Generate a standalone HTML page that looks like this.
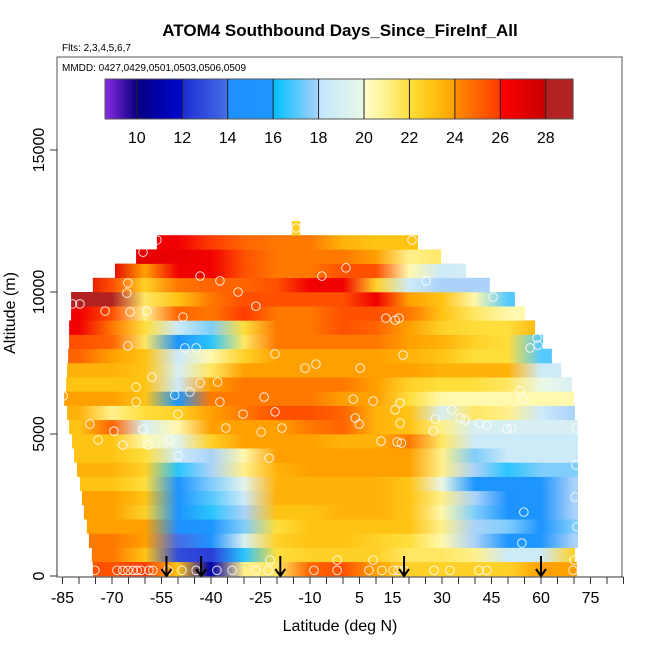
<!DOCTYPE html>
<html><head><meta charset="utf-8">
<style>
html,body{margin:0;padding:0;background:#fff;}
svg{display:block;font-family:"Liberation Sans",Arial,sans-serif;}
</style></head>
<body>
<svg id="chart" width="650" height="650" viewBox="0 0 650 650">
<defs id="defs"></defs>
<text x="340" y="36" text-anchor="middle" font-size="17" font-weight="bold">ATOM4 Southbound Days_Since_FireInf_All</text>
<text x="62" y="51" font-size="10">Flts: 2,3,4,5,6,7</text>
<text x="62" y="71" font-size="10">MMDD: 0427,0429,0501,0503,0506,0509</text>
<g id="rows"></g>
<g id="points"></g>
<g id="arrows"></g>
<g id="cbar"></g>
<rect x="57" y="57" width="565" height="520" fill="none" stroke="#555" stroke-width="1"/>
<g id="axes"></g>
<text x="340" y="631" text-anchor="middle" font-size="16">Latitude (deg N)</text>
<text transform="translate(15,313) rotate(-90)" text-anchor="middle" font-size="16">Altitude (m)</text>
</svg>
<script>
const latNodes = [-80,-70,-60,-50,-40,-30,-20,-10,0,10,20,30,40,50,60,70];
const rowAltBase = [0,500,1000,1500,2000,2500,3000,3500,4000,4500,5000,5500,6000,6500,7000,7500,8000,8500,9000,9500,10000,10500,11000,11500,12000];
const rowLatMin = [-75.8,-76.1,-77,-77.6,-78.5,-79.1,-79.7,-80.6,-81.5,-82.1,-83,-83.6,-84.5,-83.9,-83.6,-83.3,-83,-83,-82.4,-82.4,-75.8,-69.1,-62.7,-56.4,-15.5];
const rowLatMax = [70.9,70.3,71.2,71.2,71.2,71.2,71.2,71.2,71.2,71.2,71.2,70.3,70,69.4,66.1,63.3,60.6,58.2,55.2,52.1,44.5,37.3,29.7,22.7,-13];
const rowValues = [
 [25.5,25.5,26,23,11,21,21.5,25,25.5,24,22.5,22.5,22.5,22.5,24,24],
 [24.5,24.5,23,13,12.5,16.5,22,22.5,22.5,22.5,21.5,21.5,21,18.5,18.5,22.5],
 [24.5,24.5,24,14,15,19,22.5,23,23,22.5,22,20.5,18,16,16,18],
 [24,24,24,14.5,16,17.5,22,23,23,23,23,21,18,17.5,15.5,17.5],
 [24,24,22.5,15.5,16.5,18,23,23,23.5,23.5,23,20.5,17.5,15,15.5,18],
 [24,24,23,15.5,17,18.5,23.5,23.5,23.5,23.5,23,21,18,15,15.5,18],
 [23,23,22,15.5,17.5,19.5,23.5,23.5,23.5,23.5,23,20,16,15.5,16,18],
 [23.5,23.5,22.5,16.5,18,21,23.5,24,24,24,24,21,18,16.5,17.5,17.5],
 [23,23,22,18.5,18,20.5,24,24,24,24,24,21,17.5,18.5,18.5,18.5],
 [23,23,20.5,19.5,22.5,24,24,24,23.5,23.5,24.5,21.5,18.5,18.5,18.5,18.5],
 [23,25,19,20.5,24,24,24,24.5,25,23.5,23,21,19,19,19,19],
 [23.5,21,22,22.5,24,24.5,25.5,25.5,25,23.5,23,19,21.5,21,18.5,18],
 [24,24,23,16,24.5,24.5,24.5,24.5,24,24,22,20.5,20.5,20.5,20.5,20.5],
 [23,23,23,18.5,24,24.5,24.5,24.5,24.5,24,22.5,22,22,21.5,20,19],
 [23.5,23.5,23,19,21.5,24,24,24,24,24,24,23.5,23.5,23.5,18.5,18.5],
 [25,24,23,18.5,20.5,22.5,24,24,24,24,23.5,23,22,22,17,17],
 [25.5,25,21.5,15.5,16.5,21.5,24.5,24.5,24.5,24.5,24,23.5,22.5,22,17,17],
 [26.5,24.5,22,18.5,17.5,22,24.5,24.5,25.5,25,24,22.5,22,22,23.5,23.5],
 [26.5,25.5,21,25,24.5,26,24.5,24.5,25.5,25.5,24.5,23,21.5,20.5,20.5,20.5],
 [28.5,28.5,21.5,23,24.5,25.5,25.5,25.5,25.5,26.5,24,23,20.5,17,17,17],
 [27.5,25.5,22.5,24.5,25,25,25.5,26.5,26.5,22.5,18.5,18,18,18,18,18],
 [27,27,24,26.5,26.5,25.5,24.5,24.5,25.5,25.5,20.5,18.5,19,19,19,19],
 [27,27,27,26.8,26.5,25.5,24.5,24.5,24.5,24,21,21.5,21.5,21.5,21.5,21.5],
 [26.5,26.5,26.5,26.5,26,25,24.5,24.5,23.5,23,23,23,23,23,23,23],
 [22.5,22.5,22.5,22.5,22.5,22.5,22.5,22.5,22.5,22.5,22.5,22.5,22.5,22.5,22.5,22.5]
];
const pointLat = [-14.2,-56.4,-60.6,-43.3,-37.3,-6.4,-65.2,-65.5,-31.8,20.9,0.9,25.2,45.5,-82,-79.7,-72.1,-64.5,-59.4,-48.5,-26.4,13,15.8,17,-65.2,-47.9,-44.5,-20.6,-11.5,-8.2,5.2,18.2,56.7,58.8,59.1,-57.9,-43.3,-62.7,-51,-46.4,-38,-23.9,3.1,9.1,17.3,33,53.6,-84.8,-62.7,-50,-37.3,-30.3,-20.6,3.7,4.9,15.8,17.3,-76.7,-69.4,-60.6,-52.7,-35.5,-24.8,-18.5,11.5,16.4,17.7,27.4,28,35.5,37,41.5,43.6,49.7,51.2,70.6,-74.2,-66.7,-59.1,-50,-22.4,54.5,70.6,70.3,54.8,70.9,54.2,-75.2,-68.5,-66.7,-65.2,-63.6,-62.4,-61.2,-58.8,-57.6,-53,-48.8,-44.5,-38.2,-33.6,-26.4,-22.7,-8.8,-1.8,7.9,11.8,15.2,16.7,18.5,27.6,32.4,41.2,43.6,69.7,-22.1,-1.8,9.1,70];
const pointAlt = [12250,11830,11400,10560,10390,10560,10320,9960,10000,11830,10850,10390,9820,9580,9580,9330,9300,9330,9120,9500,9080,9010,9080,8100,8030,8030,7820,7320,7460,7320,7780,8030,8380,8130,7000,6800,6650,6370,6480,6830,6300,6230,6160,6090,5850,6520,6340,6130,5700,6130,5700,5780,5560,5350,5850,5380,5350,5100,5160,4790,5210,5070,5210,4750,4720,4680,5100,5530,5560,5490,5380,5320,5170,5210,5210,4790,4610,4610,4230,4150,6230,3910,2780,2250,1730,1160,200,200,200,200,200,200,200,200,200,200,200,200,200,200,200,200,200,200,200,200,200,200,200,200,200,200,200,200,560,560,560,560];
const arrowLat = [-53.5,-43,-19,18.5,60];
const xTicks = [-85,-70,-55,-40,-25,-10,5,15,30,45,60,75];
const yTicks = [0,5000,10000,15000];
const cbTicks = [10,12,14,16,18,20,22,24,26,28];

const NS = 'http://www.w3.org/2000/svg';
function X(lat){ return 62.5 + (lat + 85) * 3.3; }
function Y(alt){ return 576 - alt * 0.0284; }
function mk(tag, attrs, parent){ const e = document.createElementNS(NS, tag); for (const k in attrs) e.setAttribute(k, attrs[k]); parent.appendChild(e); return e; }

const cStops = [[8.6,[138,43,226]],[10,[10,0,130]],[11,[0,0,170]],[12,[0,10,205]],[12.01,[30,45,210]],[14,[70,110,230]],[14.01,[30,144,255]],[16,[30,150,255]],[16.01,[0,191,255]],[18,[170,210,250]],[18.01,[195,230,255]],[20,[235,248,230]],[20.01,[255,255,205]],[21,[255,240,140]],[22,[255,222,60]],[23,[255,195,20]],[24,[255,160,0]],[24.01,[255,140,0]],[26,[255,60,0]],[26.01,[255,0,0]],[28,[200,0,0]],[28.01,[178,34,34]],[29.3,[178,34,34]]];
function color(v){
  if (v <= cStops[0][0]) return 'rgb(' + cStops[0][1].join(',') + ')';
  for (let i = 1; i < cStops.length; i++) {
    if (v <= cStops[i][0]) {
      const a = cStops[i-1], b = cStops[i]; const t = (v - a[0]) / (b[0] - a[0]);
      return 'rgb(' + a[1].map((c, j) => Math.round(c + (b[1][j] - c) * t)).join(',') + ')';
    }
  }
  return 'rgb(178,34,34)';
}

const defs = document.getElementById('defs');
const rowsG = document.getElementById('rows');
rowValues.forEach((vals, r) => {
  const g = mk('linearGradient', {id: 'rg' + r, gradientUnits: 'userSpaceOnUse', x1: X(latNodes[0]), x2: X(latNodes[latNodes.length-1]), y1: 0, y2: 0}, defs);
  vals.forEach((v, i) => { mk('stop', {offset: (i / (latNodes.length - 1)).toFixed(4), 'stop-color': color(v)}, g); });
  const y0 = Y(rowAltBase[r] + 500), y1 = Y(rowAltBase[r]);
  const rect = mk('rect', {x: X(rowLatMin[r]), y: y0, width: X(rowLatMax[r]) - X(rowLatMin[r]), height: y1 - y0 + 0.3, fill: 'url(#rg' + r + ')'}, rowsG);
  
  
});

const ptsG = document.getElementById('points');
pointLat.forEach((lat, i) => {
  const c = mk('circle', {cx: X(lat), cy: Y(pointAlt[i]), r: 4.3, fill: 'none', stroke: '#fff', 'stroke-width': 1, opacity: 0.85}, ptsG);
  
  
});

const arG = document.getElementById('arrows');
arrowLat.forEach(lat => {
  const x = X(lat);
  const p = mk('path', {d: 'M' + x + ',556 L' + x + ',576 M' + (x-5) + ',569 L' + x + ',576 L' + (x+5) + ',569', stroke: '#000', 'stroke-width': 2, fill: 'none'}, arG);
  
  
});

const cb = document.getElementById('cbar');
const cbX0 = 105, cbX1 = 573, cbMin = 8.6, cbMax = 29.2;
function CX(v){ return cbX0 + (v - cbMin) / (cbMax - cbMin) * (cbX1 - cbX0); }
for (let v = cbMin; v < cbMax; v += 0.05) {
  mk('rect', {x: CX(v), y: 79, width: (cbX1 - cbX0) / ((cbMax - cbMin) / 0.05) + 0.6, height: 40, fill: color(v + 0.025)}, cb);
}
mk('rect', {x: cbX0, y: 79, width: cbX1 - cbX0, height: 40, fill: 'none', stroke: '#555'}, cb);
cbTicks.forEach(t => {
  mk('line', {x1: CX(t), x2: CX(t), y1: 79, y2: 119, stroke: '#222', 'stroke-width': 1}, cb);
  const tx = mk('text', {x: CX(t), y: 143, 'text-anchor': 'middle', 'font-size': 16}, cb);
  tx.textContent = t;
  
  
});

const ax = document.getElementById('axes');
mk('line', {x1: X(-85), x2: X(85), y1: 577, y2: 577, stroke: '#333'}, ax);
for (let l = -85; l <= 85; l += 5) mk('line', {x1: X(l), x2: X(l), y1: 577, y2: 584, stroke: '#333'}, ax);
xTicks.forEach(t => {
  const tx = mk('text', {x: X(t), y: 603, 'text-anchor': 'middle', 'font-size': 16}, ax);
  tx.textContent = t;
  
  
});
mk('line', {x1: 57, x2: 57, y1: Y(0), y2: Y(15000), stroke: '#333'}, ax);
yTicks.forEach(t => {
  mk('line', {x1: 50, x2: 57, y1: Y(t), y2: Y(t), stroke: '#333'}, ax);
  const tx = mk('text', {'text-anchor': 'middle', 'font-size': 16, transform: 'translate(44,' + Y(t) + ') rotate(-90)'}, ax);
  tx.textContent = t;
  
  
});
</script>
</body></html>
